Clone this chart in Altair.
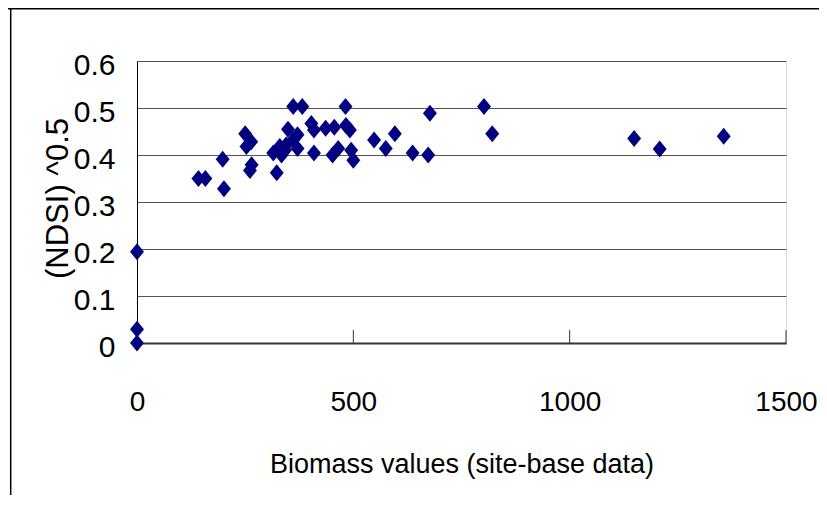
import altair as alt
import pandas as pd

# ---- data ----
biomass = [0, 0, 0, 142, 158, 198, 201, 250, 253, 264, 265, 261,
           315, 323, 330, 334, 342, 345, 349, 361, 361, 371, 371, 382,
           403, 409, 409, 436, 456, 452, 465, 482, 483, 492, 495, 500,
           548, 575, 596, 637, 673, 677, 802, 821, 1149, 1208, 1356]
ndsi = [0.0, 0.029, 0.194, 0.35, 0.35, 0.391, 0.328, 0.445, 0.418, 0.428, 0.379, 0.367,
        0.404, 0.362, 0.418, 0.40, 0.41, 0.422, 0.455, 0.503, 0.432, 0.443, 0.414, 0.503,
        0.467, 0.453, 0.404, 0.457, 0.459, 0.40, 0.414, 0.503, 0.463, 0.453, 0.41, 0.389,
        0.432, 0.414, 0.445, 0.404, 0.40, 0.489, 0.503, 0.445, 0.435, 0.413, 0.44]
x_tick_values = [0, 500, 1000, 1500]
x_inner_ticks = [500, 1000, 1500]
y_tick_values = [0, 0.1, 0.2, 0.3, 0.4, 0.5, 0.6]

x_title = "Biomass values (site-base data)"
y_title = "(NDSI) ^0.5"

FONT = "Liberation Sans, Arial, sans-serif"
DIAMOND = "M0,-1L0.82,0L0,1L-0.82,0Z"

df = pd.DataFrame({"biomass": biomass, "ndsi": ndsi})
tick_df = pd.DataFrame({"biomass": x_inner_ticks})
one = pd.DataFrame({"a": [0]})

xscale = alt.Scale(domain=[0, 1500], nice=False, zero=True)
yscale = alt.Scale(domain=[0, 0.6], nice=False)

x_axis = alt.Axis(
    values=x_tick_values, title=x_title, format="d", grid=False, ticks=False, tickSize=0,
    domainColor="#333333", domainWidth=2,
    labelFont=FONT, labelFontSize=28, labelColor="black",
    labelBaseline="top", labelPadding=45, labelFlush=False, labelOverlap=False,
    labelBound=False,
    titleFont=FONT, titleFontSize=27, titleFontWeight="normal", titleColor="black",
    titleX=324.5, titleY=129, titleAlign="center", titleBaseline="alphabetic",
)
y_axis = alt.Axis(
    values=y_tick_values, title=y_title, format=".1~f", grid=True,
    gridColor="#555555", gridWidth=1, ticks=False, tickSize=0,
    domainColor="black", domainWidth=1,
    labelFont=FONT, labelFontSize=30, labelColor="black",
    labelPadding=22, labelOffset=4, labelBaseline="middle",
    titleFont=FONT, titleFontSize=31, titleFontWeight="normal", titleColor="black",
    titleAngle=270, titleX=-70, titleY=137, titleAlign="center", titleBaseline="alphabetic",
)

points = alt.Chart(df).mark_point(
    shape=DIAMOND, filled=True, size=289, color="#000080", opacity=1, strokeWidth=0
).encode(
    x=alt.X("biomass:Q", scale=xscale, axis=x_axis),
    y=alt.Y("ndsi:Q", scale=yscale, axis=y_axis),
)

inner_ticks = alt.Chart(tick_df).mark_rule(color="#333333", strokeWidth=1).encode(
    x=alt.X("biomass:Q", scale=xscale),
    y=alt.value(282), y2=alt.value(269),
)

outer_top = alt.Chart(one).mark_rule(color="black", strokeWidth=1.5).encode(
    x=alt.value(-129), x2=alt.value(682), y=alt.value(-52.2)
)
outer_left = alt.Chart(one).mark_rule(color="black", strokeWidth=1.5).encode(
    x=alt.value(-126.3), y=alt.value(-53), y2=alt.value(434)
)

chart = alt.layer(inner_ticks, points, outer_top, outer_left).properties(
    width=649, height=282,
    autosize=alt.AutoSizeParams(type="none"),
    padding={"left": 129, "top": 53, "right": 33, "bottom": 152},
).configure_view(stroke="#8c8c8c", strokeWidth=2).configure(background="white")

chart.save("out.html", embed_options={"renderer": "svg", "actions": False})
